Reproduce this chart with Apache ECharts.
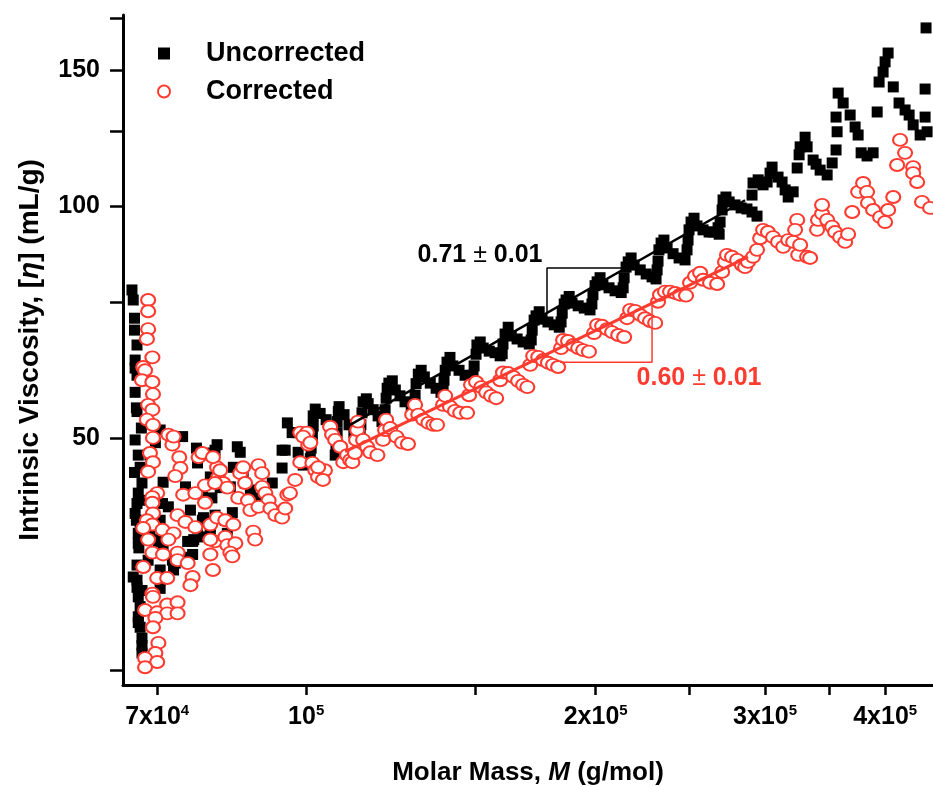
<!DOCTYPE html>
<html>
<head>
<meta charset="utf-8">
<script src="https://cdn.jsdelivr.net/npm/echarts@6/dist/echarts.min.js"></script>
<style>
  html, body { margin: 0; padding: 0; background: #fff; }
  #chart { width: 933px; height: 787px; }
</style>
</head>
<body>
<div id="chart"></div>
<script>
// points are [M (kg/mol), [eta] (mL/g)]
const uncorrected = [
  [65.9,77.8],[66.1,75.5],[66.3,71.5],[66.3,69.0],[66.7,66.0],[66.4,63.1],[66.4,61.6],[66.7,60.3],
  [66.4,57.3],[66.6,54.7],[66.7,54.1],[67.4,51.5],[66.4,49.7],[66.9,47.5],[67.2,45.8],[66.3,45.1],
  [67.5,43.7],[66.9,42.4],[66.7,41.1],[66.4,39.9],[66.6,39.1],[67.2,38.8],[66.9,37.6],[66.9,36.5],
  [67.0,36.0],[68.5,34.7],[66.7,34.2],[66.1,33.0],[66.7,32.7],[66.7,32.0],[67.5,31.7],[66.9,31.1],
  [67.2,30.2],[66.9,29.3],[66.9,28.8],[67.2,28.4],[67.5,27.5],[67.5,26.9],[67.5,26.3],
  [70.5,51.2],[69.7,49.3],[74.4,50.2],[76.9,48.5],[77.1,46.4],[80.4,48.2],[80.8,49.0],[84.8,48.7],
  [85.4,47.9],[80.0,47.8],[84.0,45.8],[86.0,45.1],[86.4,43.7],[87.5,42.8],[88.9,41.8],[92.2,43.7],
  [94.4,45.7],[95.1,48.2],[95.6,52.3],[96.7,50.8],[97.9,50.8],[98.1,47.9],[94.4,48.2],[99.3,46.1],
  [71.0,43.8],[74.9,43.2],[70.9,41.1],[71.9,40.7],[75.8,40.3],[70.5,39.1],[70.2,36.7],[71.0,36.1],
  [72.6,34.7],[72.8,33.7],[76.2,36.7],[76.2,35.3],[70.5,33.7],[70.5,31.9],[78.2,39.4],[79.5,38.4],
  [80.8,44.4],[78.0,42.4],[79.8,41.8],[82.0,43.2],[83.8,40.0],[82.8,37.6],[79.5,37.6],[77.1,38.2],
  [76.4,36.9],[73.1,34.4],[70.5,32.7],[70.0,36.9],[70.2,38.8],[80.4,39.7],[78.9,39.0],[75.3,36.7],
  [74.4,35.0],[79.5,44.5],[81.4,43.1],[83.4,43.2],[82.4,39.1],[78.2,41.5],[78.0,39.1],[78.2,37.2],
  [68.5,45.4],[68.8,47.5],[68.0,41.5],[68.8,38.0],
  [101.0,47.0],[101.2,48.5],[101.5,50.2],[101.7,51.8],[101.7,53.4],[102.2,54.5],[103.4,53.8],[104.9,52.8],[106.2,51.7],
  [107.2,47.5],[107.4,49.0],[107.7,50.8],[107.7,52.5],[108.0,54.1],[108.2,54.9],[109.5,53.6],[110.8,52.0],[112.1,50.8],[113.2,50.2],
  [113.8,50.8],[114.0,52.0],[114.3,53.9],[114.6,55.7],[115.5,56.2],[116.0,55.4],[117.4,54.4],[118.8,53.4],[119.9,52.5],
  [120.5,52.8],[120.8,54.4],[121.1,56.3],[121.4,58.0],[121.9,58.9],[122.9,59.3],[123.8,57.7],[125.2,56.7],[126.7,55.7],[128.6,54.7],
  [129.5,55.2],[129.8,56.8],[130.1,58.8],[130.8,60.5],[131.7,61.2],[132.7,60.0],[134.6,58.9],[136.5,58.0],[138.1,57.3],
  [138.8,57.7],[139.1,59.4],[139.5,61.2],[140.1,62.7],[141.1,63.6],[142.1,62.0],[144.2,61.2],[146.3,60.3],[148.4,59.6],
  [149.1,60.3],[149.5,62.0],[150.2,64.2],[150.5,66.0],[151.7,66.6],[152.8,65.4],[155.0,64.8],[157.2,64.5],[159.1,63.9],
  [159.9,64.3],[160.2,66.2],[161.0,68.2],[162.2,69.6],[163.4,67.8],[165.7,67.2],[168.1,66.6],[170.6,66.2],
  [171.4,67.0],[171.8,69.0],[172.6,71.1],[173.4,72.0],[174.7,72.9],[175.9,71.3],[178.4,70.7],[181.1,70.1],[183.3,69.6],
  [184.1,70.7],[184.6,72.6],[185.5,74.6],[186.3,75.5],[187.7,76.3],[189.0,74.8],[191.8,74.2],[194.6,73.7],[197.3,73.3],
  [198.2,74.6],[198.7,76.7],[199.7,78.8],[200.7,79.7],[202.1,80.7],[203.5,79.0],[206.5,78.3],[209.5,77.6],[212.6,77.2],
  [213.6,78.3],[214.1,80.7],[215.1,83.3],[216.2,84.6],[217.7,85.6],[219.3,83.8],[222.5,82.6],[225.7,81.6],[228.9,80.9],[231.1,80.4],
  [231.7,82.6],[232.2,84.8],[232.7,87.7],[233.9,89.5],[235.5,90.3],[237.3,88.2],[240.7,86.7],[244.2,85.6],[247.7,85.1],
  [248.9,87.7],[249.5,90.3],[250.1,93.1],[251.3,95.3],[253.1,96.4],[254.9,94.2],[258.6,93.1],[262.4,92.5],[264.9,92.5],[268.1,93.7],
  [268.8,91.9],[269.4,95.3],[270.7,98.8],[271.3,101.8],[273.2,102.7],[275.3,101.2],[279.2,100.3],[283.3,99.4],[287.3,99.1],[290.8,98.2],[294.3,97.0],
  [290.8,103.3],[291.5,107.1],[295.1,108.1],[298.6,106.5],[301.5,107.4],[303.6,110.3],[305.1,112.3],[309.5,109.0],
  [312.5,107.4],[314.8,104.9],[317.1,102.7],[320.9,104.3],
  [324.0,112.0],[325.5,116.5],[326.3,119.3],[330.2,122.8],[331.8,119.3],[336.6,114.7],[339.0,113.3],[342.3,111.3],[348.1,109.7],
  [352.3,113.7],[355.6,118.2],[356.5,124.8],[355.6,130.4],[357.4,140.1],[361.7,136.0],[367.8,131.2],[372.2,126.6],
  [374.9,123.6],[377.6,117.2],[383.0,116.1],[388.6,117.2],
  [392.4,132.4],[394.2,144.8],[398.0,149.2],[399.9,153.8],[402.8,157.9],[407.8,142.7],[413.5,136.0],[419.5,133.2],
  [423.6,131.2],[427.7,127.4],[434.9,123.6],[442.2,124.8],[440.1,130.4],[440.1,141.8],[441.1,170.2]
];

const corrected = [
  [68.5,75.5],[68.5,73.0],[68.5,69.2],[68.3,67.2],[69.2,63.6],[67.7,61.8],[68.0,61.2],[67.5,59.4],
  [69.2,59.1],[69.3,57.0],[68.5,55.2],[69.2,54.4],[68.3,52.8],[69.3,52.0],[69.3,50.0],[71.9,50.5],
  [72.6,49.0],[72.8,50.2],[68.8,47.8],[69.3,46.5],[68.5,45.2],[73.8,47.2],[74.0,45.7],[77.3,47.2],
  [78.0,47.8],[70.0,42.4],[69.2,41.9],[69.2,41.2],[69.3,39.9],[68.3,39.1],[69.2,38.6],[67.7,38.2],
  [68.5,36.9],[67.7,34.0],[69.2,35.5],[71.0,35.3],[70.9,38.0],[72.8,37.6],[71.9,36.9],[73.5,39.7],
  [74.9,38.9],[76.7,38.3],[74.5,42.2],[76.7,42.4],[78.5,41.2],[78.5,43.4],[73.1,44.6],[73.5,35.5],
  [73.5,34.7],[75.3,34.4],[70.0,32.9],[71.7,32.9],[69.2,31.4],[69.3,31.1],[68.0,29.9],[70.0,29.7],
  [71.7,30.4],[73.5,30.6],[71.7,29.6],[73.5,29.6],[69.7,29.2],[69.3,28.4],[70.2,27.1],[69.7,26.3],
  [68.0,25.9],[70.0,25.6],[68.0,25.2],[76.2,33.0],[75.8,32.2],[79.5,35.3],[80.0,33.7],[80.4,36.7],
  [79.5,38.6],[79.5,36.9],
  [80.8,45.8],[81.0,44.4],[82.0,43.7],[85.4,45.0],[86.0,45.8],[85.0,41.8],[86.4,43.7],[87.0,41.5],
  [87.5,40.3],[89.2,46.1],[90.0,43.2],[90.7,42.4],[91.4,41.5],[89.2,40.7],[91.8,40.5],[92.9,39.7],
  [94.4,39.4],[95.1,40.5],[95.6,42.2],[97.4,44.1],[98.6,50.8],[100.2,50.8],[100.5,49.0],[98.6,46.5],
  [101.5,46.4],[102.2,45.4],[102.9,44.5],[104.6,45.4],[104.1,44.1],[80.8,39.4],[82.4,39.1],[84.0,38.6],
  [82.4,37.2],[82.8,36.3],[84.4,36.5],[83.4,35.5],[83.8,35.1],[88.1,37.8],[88.5,36.9],[80.0,47.2],
  [81.4,45.4],[90.0,45.0],[80.4,43.7],[82.8,43.1],[99.3,50.2],[101.0,49.3],[102.9,45.8],[96.2,42.4],
  [105.9,51.7],[106.4,50.5],[107.2,49.7],[108.5,48.7],[109.3,46.5],[110.3,47.5],[111.1,46.8],[111.7,46.5],[112.4,47.8],
  [112.7,49.7],[113.0,51.2],[113.2,52.5],[114.6,49.7],[115.7,48.7],[116.6,47.9],[118.6,47.5],
  [120.2,49.7],[120.8,51.2],[121.1,52.8],[122.3,51.5],[124.1,50.2],[125.8,49.3],[127.6,49.1],
  [128.9,53.6],[129.8,55.2],[130.8,53.6],[132.4,52.8],[134.0,52.3],[135.6,52.0],[136.8,52.0],
  [138.8,55.2],[139.5,56.7],[141.1,54.9],[142.8,54.2],[144.6,53.9],[147.0,53.9],
  [147.7,56.8],[148.4,58.6],[150.2,59.1],[152.1,58.2],[153.9,57.3],[155.7,56.7],[157.6,56.3],
  [159.1,59.4],[160.2,60.8],[162.2,60.7],[164.2,60.0],[166.1,59.3],[168.1,58.6],[169.8,58.2],
  [171.0,62.2],[172.2,63.9],[174.3,63.7],[176.3,63.1],[178.4,62.6],[180.6,62.2],[182.8,61.8],
  [184.1,65.4],[185.0,67.0],[187.2,66.8],[189.5,66.0],[191.8,65.4],[194.1,65.0],[196.8,64.7],
  [199.2,68.4],[200.7,70.1],[203.1,69.9],[205.5,69.2],[208.0,68.6],[211.1,68.0],[214.1,67.6],
  [215.6,71.5],[217.2,73.3],[219.8,73.1],[222.5,72.2],[225.1,71.5],[227.8,70.9],[230.6,70.5],
  [232.2,75.1],[233.3,76.7],[236.1,77.4],[239.0,77.4],[241.9,77.1],[244.8,76.7],[248.3,76.5],
  [250.7,79.5],[253.7,81.1],[256.8,81.9],[258.6,80.2],[263.0,79.5],[267.5,79.2],
  [270.7,82.1],[272.6,84.6],[273.9,86.4],[277.2,85.9],[280.6,85.1],[283.9,83.8],[286.0,83.3],[288.0,84.6],[291.5,85.9],[294.3,87.7],
  [296.5,90.8],[298.6,93.1],[302.1,92.5],[305.8,91.1],[309.5,89.8],[313.3,88.5],[317.1,90.3],[320.9,89.8],
  [324.0,95.9],[322.4,93.1],[324.8,86.4],[326.3,89.0],[331.8,85.9],[334.2,85.6],[339.8,93.1],[340.6,95.9],
  [343.9,97.7],[343.9,100.3],[348.1,95.9],[352.3,94.0],[354.8,92.5],[359.1,91.1],[363.4,89.8],[366.0,91.9],
  [369.6,98.2],[374.9,104.3],[379.4,107.1],[383.0,104.3],[383.9,100.9],[388.6,98.8],[395.2,96.7],[399.9,95.3],
  [402.8,98.8],[407.8,102.7],[411.6,113.0],[414.5,121.8],[419.5,117.2],[427.7,112.3],[427.7,110.3],[431.8,107.4],
  [436.9,101.2],[445.4,99.4]
];

const fitUncorrected = [[111.1, 52.0], [286.0, 101.7]];
const fitCorrected = [[109.8, 48.0], [288.0, 85.9]];
const slopeUncorrected = [[178.0, 72.7], [178.0, 83.1], [213.1, 83.1]];
const slopeCorrected = [[183.7, 62.7], [228.9, 62.7], [228.9, 75.1]];

const xTicks = [70000, 100000, 150000, 200000, 250000, 300000, 350000, 400000];
const xLabels = [70000, 100000, 200000, 300000, 400000];
const yTicks = [25, 50, 75, 100, 125, 150, 175];
const yLabels = [50, 100, 150];

const RED = '#ff3b30';
const FONT = '"Liberation Sans", Arial, Helvetica, sans-serif';

// both axes are logarithmic: plot log10 values on linear axes
const toPoint = p => [Math.log10(p[0] * 1000), Math.log10(p[1])];
const lg = v => Math.log10(v);

function massLabel(v) {
  const m = Math.round(Math.pow(10, v));
  const exp = Math.floor(Math.log10(m) + 1e-9);
  const mant = Math.round(m / Math.pow(10, exp));
  return '{n|' + (mant === 1 ? '' : mant + 'x') + '10}{sup|' + exp + '}';
}

const chart = echarts.init(document.getElementById('chart'));
chart.setOption({
  animation: false,
  backgroundColor: '#fff',
  grid: { left: 123, right: 0, top: 15, bottom: 102, containLabel: false, outerBoundsMode: 'none' },
  legend: {
    orient: 'vertical',
    left: 152,
    top: 35,
    itemWidth: 12,
    itemHeight: 12,
    itemGap: 11,
    data: ['Uncorrected', 'Corrected'],
    textStyle: { fontFamily: FONT, fontSize: 27, fontWeight: 'bold', color: '#000', padding: [0, 0, 0, 31] }
  },
  xAxis: {
    type: 'value',
    min: lg(64500),
    max: lg(448500),
    name: 'Molar Mass, {i|M} (g/mol)',
    nameLocation: 'middle',
    nameGap: 75,
    nameTextStyle: {
      fontFamily: FONT, fontSize: 26, fontWeight: 'bold', color: '#000',
      rich: { i: { fontFamily: FONT, fontSize: 26, fontWeight: 'bold', fontStyle: 'italic', color: '#000' } }
    },
    splitLine: { show: false },
    axisLine: { onZero: false, lineStyle: { color: '#000', width: 3 } },
    axisTick: { customValues: xTicks.map(lg), length: 10, lineStyle: { color: '#000', width: 2.5 } },
    axisLabel: {
      customValues: xLabels.map(lg),
      formatter: massLabel,
      margin: 18,
      rich: {
        n: { fontFamily: FONT, fontSize: 25, fontWeight: 'bold', color: '#000', verticalAlign: 'bottom' },
        sup: { fontFamily: FONT, fontSize: 15, fontWeight: 'bold', color: '#000', verticalAlign: 'bottom', padding: [0, 0, 12, 0] }
      }
    }
  },
  yAxis: {
    type: 'value',
    min: lg(23.9),
    max: lg(176.9),
    name: 'Intrinsic Viscosity, [{i|η}] (mL/g)',
    nameLocation: 'middle',
    nameGap: 79,
    nameRotate: 90,
    nameTextStyle: {
      fontFamily: FONT, fontSize: 28, fontWeight: 'bold', color: '#000',
      rich: { i: { fontFamily: FONT, fontSize: 28, fontWeight: 'bold', fontStyle: 'italic', color: '#000' } }
    },
    splitLine: { show: false },
    axisLine: { onZero: false, lineStyle: { color: '#000', width: 3 } },
    axisTick: { customValues: yTicks.map(lg), length: 13, lineStyle: { color: '#000', width: 2.5 } },
    axisLabel: {
      customValues: yLabels.map(lg),
      formatter: v => String(Math.round(Math.pow(10, v))),
      margin: 23,
      fontFamily: FONT, fontSize: 25, fontWeight: 'bold', color: '#000'
    }
  },
  series: [
    {
      name: 'Uncorrected',
      type: 'scatter',
      symbol: 'rect',
      symbolSize: 11,
      itemStyle: { color: '#000', opacity: 1 },
      data: uncorrected.map(toPoint),
      z: 2
    },
    {
      name: 'Corrected',
      type: 'scatter',
      symbol: 'emptyCircle',
      symbolSize: [14, 12],
      itemStyle: { color: RED, borderColor: RED, borderWidth: 1, opacity: 1 },
      data: corrected.map(toPoint),
      z: 3
    },
    {
      type: 'line',
      data: fitUncorrected.map(toPoint),
      showSymbol: false,
      lineStyle: { color: '#000', width: 2.5 },
      z: 4
    },
    {
      type: 'line',
      data: fitCorrected.map(toPoint),
      showSymbol: false,
      lineStyle: { color: RED, width: 3 },
      z: 4
    },
    {
      type: 'line',
      data: slopeUncorrected.map(toPoint),
      showSymbol: false,
      lineStyle: { color: '#000', width: 1.5 },
      z: 4,
      markPoint: {
        symbol: 'circle',
        symbolSize: 0,
        silent: true,
        data: [{
          coord: toPoint(slopeUncorrected[1]),
          label: {
            show: true,
            position: 'inside',
            offset: [-67, -13],
            formatter: '0.71 {pm|±} 0.01',
            fontFamily: FONT, fontSize: 25, fontWeight: 'bold', color: '#000',
            rich: { pm: { fontFamily: FONT, fontSize: 25, fontWeight: 'normal', color: '#000' } }
          }
        }]
      }
    },
    {
      type: 'line',
      data: slopeCorrected.map(toPoint),
      showSymbol: false,
      lineStyle: { color: RED, width: 1.5 },
      z: 4,
      markPoint: {
        symbol: 'circle',
        symbolSize: 0,
        silent: true,
        data: [{
          coord: toPoint(slopeCorrected[1]),
          label: {
            show: true,
            position: 'inside',
            offset: [47, 16],
            formatter: '0.60 {pm|±} 0.01',
            fontFamily: FONT, fontSize: 25, fontWeight: 'bold', color: RED,
            rich: { pm: { fontFamily: FONT, fontSize: 25, fontWeight: 'normal', color: RED } }
          }
        }]
      }
    }
  ]
});
</script>
</body>
</html>
